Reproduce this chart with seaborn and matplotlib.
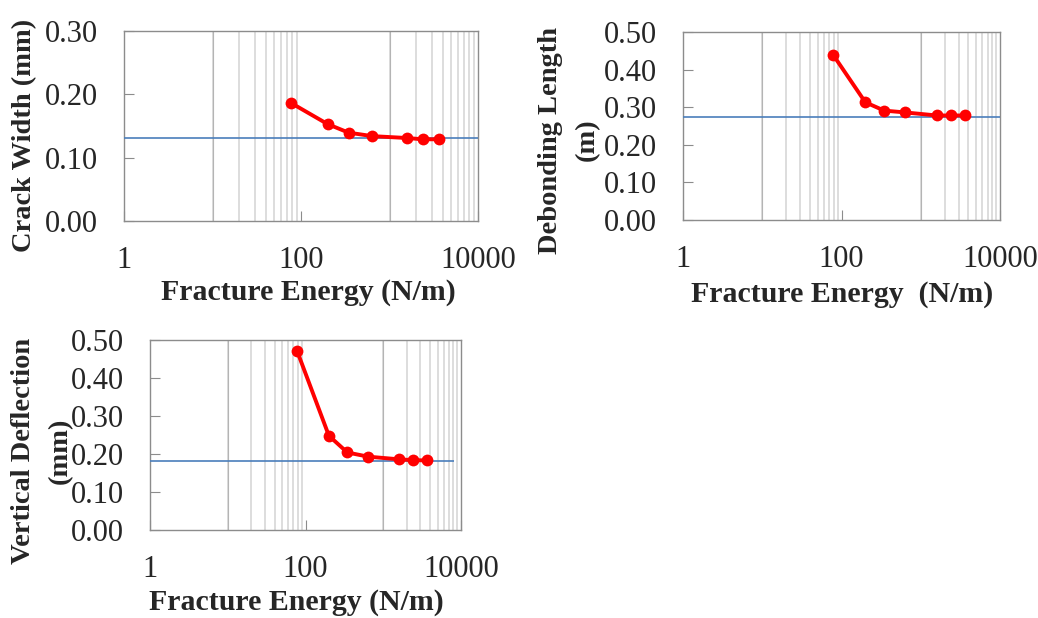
import matplotlib
matplotlib.use("Agg")
import matplotlib.pyplot as plt
import seaborn as sns
import pandas as pd
from matplotlib.ticker import FixedLocator, FixedFormatter, NullFormatter

# Fracture energy values used in the parametric study (N/m)
energy = [78, 200, 345, 640, 1590, 2380, 3600]

# Responses for each fracture energy
crack_width = [0.186, 0.153, 0.1395, 0.134, 0.131, 0.129, 0.129]
debond_length = [0.440, 0.313, 0.291, 0.286, 0.278, 0.278, 0.278]
vert_deflection = [0.471, 0.248, 0.204, 0.193, 0.186, 0.184, 0.183]

# Converged (reference) values
crack_width_ref = 0.1305
debond_length_ref = 0.2735
vert_deflection_ref = 0.1825

x_major = [1, 100, 10000]
x_major_labels = ["1", "100", "10000"]
x_minor = [10, 20, 30, 40, 50, 60, 70, 80, 90,
           1000, 2000, 3000, 4000, 5000, 6000, 7000, 8000, 9000]

sns.set_style("white")
plt.rcParams["font.family"] = ["Liberation Serif", "DejaVu Serif"]

W, H = 1038, 618
fig = plt.figure(figsize=(W / 100, H / 100), dpi=100)


def px_axes(left, top, right, bottom):
    return fig.add_axes([left / W, 1 - bottom / H, (right - left) / W, (bottom - top) / H])


panels = [
    dict(box=(124, 31, 478, 221), y=crack_width, ref=crack_width_ref, ref_end=10000,
         ylim=0.30, yticks=[0.0, 0.1, 0.2, 0.3],
         ylabel="Crack Width (mm)", ylab_xy=(25, 135),
         xlabel="Fracture Energy (N/m)", xlab_xy=(308, 293)),
    dict(box=(683, 32, 1000, 220), y=debond_length, ref=debond_length_ref, ref_end=10000,
         ylim=0.50, yticks=[0.0, 0.1, 0.2, 0.3, 0.4, 0.5],
         ylabel="Debonding Length\n(m)", ylab_xy=(569, 140),
         xlabel="Fracture Energy  (N/m)", xlab_xy=(842, 295)),
    dict(box=(150, 340, 461, 530), y=vert_deflection, ref=vert_deflection_ref, ref_end=8100,
         ylim=0.50, yticks=[0.0, 0.1, 0.2, 0.3, 0.4, 0.5],
         ylabel="Vertical Deflection\n(mm)", ylab_xy=(42, 451),
         xlabel="Fracture Energy (N/m)", xlab_xy=(296, 603)),
]

for p in panels:
    ax = px_axes(*p["box"])
    ax.set_axisbelow(True)
    df = pd.DataFrame({"energy": energy, "value": p["y"]})
    sns.lineplot(data=df, x="energy", y="value", ax=ax, color="#ff0000",
                 linewidth=2.8, marker="o", markersize=8.5, markeredgewidth=0, zorder=4)
    ax.hlines(p["ref"], 1, p["ref_end"], color="#4a7ebb", linewidth=1.2, zorder=3)

    ax.set_xscale("log")
    ax.set_xlim(1, 10000)
    ax.set_ylim(0, p["ylim"])
    ax.xaxis.set_major_locator(FixedLocator(x_major))
    ax.xaxis.set_major_formatter(FixedFormatter(x_major_labels))
    ax.xaxis.set_minor_locator(FixedLocator(x_minor))
    ax.xaxis.set_minor_formatter(NullFormatter())
    ax.set_yticks(p["yticks"])
    ax.set_yticklabels([f"{v:.2f}" for v in p["yticks"]])

    ax.grid(True, axis="x", which="minor", color="#dadada", linewidth=1.3)
    ax.grid(False, axis="y")
    for v in (10, 1000):
        ax.axvline(v, color="#b4b4b4", linewidth=0.8, zorder=1)

    ax.tick_params(axis="x", which="minor", length=0, bottom=False)
    ax.tick_params(axis="both", which="major", direction="in", length=7,
                   color="#8c8c8c", labelsize=22, bottom=True, left=True)
    ax.tick_params(axis="x", which="major", pad=18)
    ax.tick_params(axis="y", which="major", pad=19)
    for s in ax.spines.values():
        s.set_color("#8c8c8c")
        s.set_linewidth(1.0)

    ax.set_xlabel(p["xlabel"], fontsize=21.5, fontweight="bold")
    ax.xaxis.set_label_coords(p["xlab_xy"][0] / W, 1 - p["xlab_xy"][1] / H,
                              transform=fig.transFigure)
    ax.set_ylabel(p["ylabel"], fontsize=20.5, fontweight="bold", linespacing=1.6)
    ax.yaxis.set_label_coords(p["ylab_xy"][0] / W, 1 - p["ylab_xy"][1] / H,
                              transform=fig.transFigure)
    ax.xaxis.label.set_va("center")
    ax.yaxis.label.set_va("center")

fig.savefig("out.png", dpi=100)
